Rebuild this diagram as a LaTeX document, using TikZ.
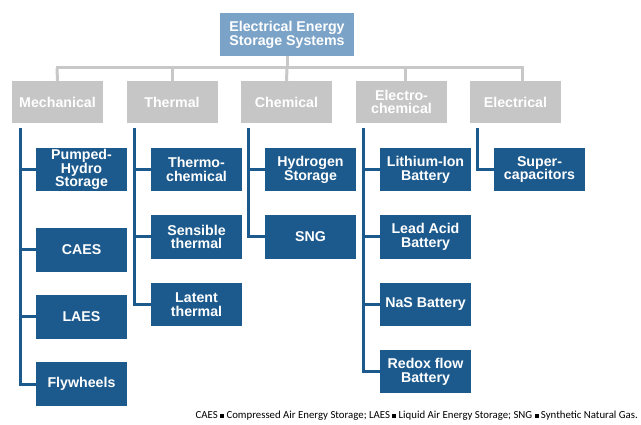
\documentclass[tikz,border=0pt]{standalone}
\usepackage{fontspec}
\setmainfont{Liberation Sans}
\newfontfamily\notefont{Carlito}
\usetikzlibrary{calc}
\definecolor{topblue}{HTML}{7BA3C7}
\definecolor{catgray}{HTML}{C6C6C6}
\definecolor{leafblue}{HTML}{1C5A8D}
\definecolor{linegray}{HTML}{C8C8C8}
\newcommand{\sqsep}{\raisebox{0.6pt}{\rule{3.8pt}{3.8pt}}}
\begin{document}
\begin{tikzpicture}[x=1pt,y=-1pt,
  boxtext/.style={text=white,font=\fontsize{14.2}{13.8}\selectfont\bfseries,align=center,inner sep=0pt},
  topbox/.style={boxtext,fill=topblue,minimum width=134pt,minimum height=43pt},
  catbox/.style={boxtext,fill=catgray,minimum width=91pt,minimum height=42pt},
  leafbox/.style={boxtext,fill=leafblue,minimum width=91pt,minimum height=43.5pt},
  grayline/.style={draw=linegray,line width=3pt},
  blueline/.style={draw=leafblue,line width=3pt}]
\useasboundingbox (0,0) rectangle (641,425);
% top
\node[topbox] (top) at (287,34.5) {Electrical Energy\\Storage Systems};
% categories
\node[catbox] (mech) at (57.5,102) {Mechanical};
\node[catbox] (ther) at (172,102) {Thermal};
\node[catbox] (chem) at (286.5,102) {Chemical};
\node[catbox] (elch) at (401.5,102) {Electro-\\chemical};
\node[catbox] (elec) at (515.5,102) {Electrical};
% gray connectors
\coordinate (busL) at (57,68);
\coordinate (busR) at (522,68);
\draw[grayline] (top.south) -- (287,68);
\draw[grayline,line cap=rect] (busL) -- (busR);
\draw[grayline] (busL) -- (mech.north);
\draw[grayline] (172,68) -- (ther.north);
\draw[grayline] (287,68) -- (chem.north);
\draw[grayline] (405,68) -- (405,81);
\draw[grayline] (busR) -- (522,81);
% mechanical children
\node[leafbox] (m1) at (81.5,169.5) {Pumped-\\Hydro\\Storage};
\node[leafbox] (m2) at (81.5,250) {CAES};
\node[leafbox] (m3) at (81.5,317) {LAES};
\node[leafbox] (m4) at (81.5,384) {Flywheels};
% thermal children
\node[leafbox] (t1) at (196.5,169.5) {Thermo-\\chemical};
\node[leafbox] (t2) at (196.5,237) {Sensible\\thermal};
\node[leafbox] (t3) at (196.5,304.5) {Latent\\thermal};
% chemical children
\node[leafbox] (c1) at (310.5,169.5) {Hydrogen\\Storage};
\node[leafbox] (c2) at (310.5,237) {SNG};
% electrochemical children
\node[leafbox] (e1) at (425.5,169.5) {Lithium-Ion\\Battery};
\node[leafbox] (e2) at (425.5,237) {Lead Acid\\Battery};
\node[leafbox] (e3) at (425.5,304.5) {NaS Battery};
\node[leafbox] (e4) at (425.5,371.5) {Redox flow\\Battery};
% electrical children
\node[leafbox] (s1) at (539.5,169.5) {Super-\\capacitors};
% blue connectors
\draw[blueline] (20,128) |- (m4.west);
\draw[blueline] (20,0 |- m1.west) -- (m1.west);
\draw[blueline] (20,0 |- m2.west) -- (m2.west);
\draw[blueline] (20,0 |- m3.west) -- (m3.west);
\draw[blueline] (134,128) |- (t3.west);
\draw[blueline] (134,0 |- t1.west) -- (t1.west);
\draw[blueline] (134,0 |- t2.west) -- (t2.west);
\draw[blueline] (248,128) |- (c2.west);
\draw[blueline] (248,0 |- c1.west) -- (c1.west);
\draw[blueline] (363,128) |- (e4.west);
\draw[blueline] (363,0 |- e1.west) -- (e1.west);
\draw[blueline] (363,0 |- e2.west) -- (e2.west);
\draw[blueline] (363,0 |- e3.west) -- (e3.west);
\draw[blueline] (477,128) |- (s1.west);
% footnote
\node[anchor=east,inner sep=0pt,font=\notefont\fontsize{10.8}{12}\selectfont] (note) at (638,415.5)
 {CAES \sqsep{} Compressed Air Energy Storage; LAES \sqsep{} Liquid Air Energy Storage; SNG \sqsep{} Synthetic Natural Gas.};
\end{tikzpicture}
\end{document}
